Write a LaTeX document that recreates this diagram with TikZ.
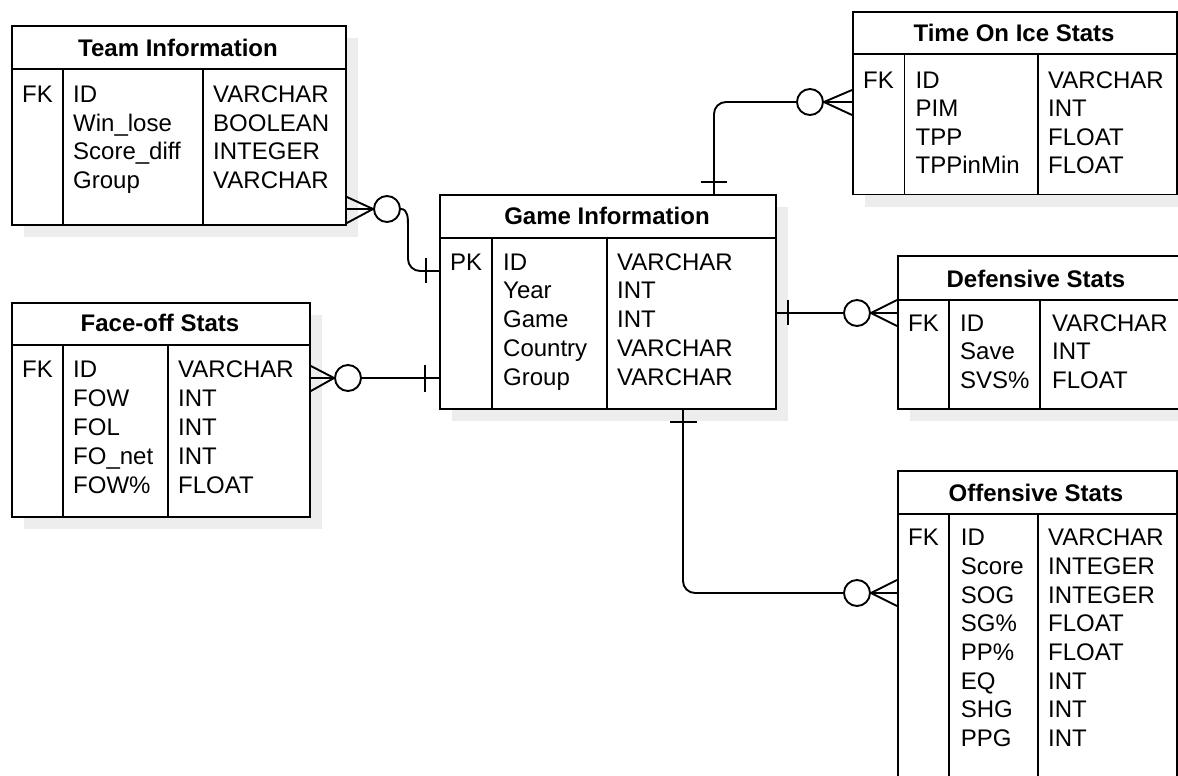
\documentclass[tikz,border=0pt]{standalone}
\usepackage{fontspec}
\setmainfont{Liberation Sans}
\tikzset{
  ln/.style={line width=1.9pt, draw=black},
  shade/.style={fill=black!7, draw=none},
  tbl/.style={draw, line width=1.9pt, fill=white, anchor=north west, inner sep=0pt},
  ttl/.style={font=\bfseries\fontsize{24}{28}\selectfont, anchor=base, inner sep=0pt},
  cell/.style={font=\fontsize{24}{28}\selectfont, anchor=base west, inner sep=0pt},
  circ/.style={circle, draw, line width=1.9pt, fill=white, minimum size=26pt, inner sep=0pt},
}
\newcommand\ercol[5]{\foreach \itm [count=\i from 0] in {#5} \node[cell] (#1\i) at (#2,{#3+\i*#4}) {\itm};}
\begin{document}
\begin{tikzpicture}[x=1pt,y=-1pt]
\useasboundingbox (0,0) rectangle (1178,776);
\clip (0,0) rectangle (1178,776);
\fill[white] (0,0) rectangle (1178,776);
% shadows
\fill[shade] (24,38) rectangle (358,237);
\fill[shade] (24,315) rectangle (322,529);
\fill[shade] (452,207) rectangle (788,421);
\fill[shade] (865,24) rectangle (1189,207);
\fill[shade] (910,268) rectangle (1195,421);
\fill[shade] (910,483) rectangle (1189,800);

% Team Information
\node[tbl, minimum width=334pt, minimum height=199pt] (team) at (11,25) {};
\draw[ln] (11,69) -- (345,69);
\draw[ln] (63,69) -- (63,224);
\draw[ln] (203,69) -- (203,224);
\node[ttl] (teamT) at (178,56.7) {Team Information};
\ercol{teamK}{22}{102.5}{28.5}{FK}
\ercol{teamN}{73}{102.5}{28.5}{ID,Win\_lose,Score\_diff,Group}
\ercol{teamY}{213}{102.5}{28.5}{VARCHAR,BOOLEAN,INTEGER,VARCHAR}

% Face-off Stats
\node[tbl, minimum width=298pt, minimum height=214pt] (face) at (11,302) {};
\draw[ln] (11,345) -- (309,345);
\draw[ln] (63,345) -- (63,516);
\draw[ln] (168,345) -- (168,516);
\node[ttl] (faceT) at (160,331.7) {Face-off Stats};
\ercol{faceK}{22}{377.4}{29}{FK}
\ercol{faceN}{73}{377.4}{29}{ID,FOW,FOL,FO\_net,FOW\%}
\ercol{faceY}{178}{377.4}{29}{VARCHAR,INT,INT,INT,FLOAT}

% Game Information
\node[tbl, minimum width=336pt, minimum height=214pt] (game) at (439,194) {};
\draw[ln] (439,238) -- (775,238);
\draw[ln] (492,238) -- (492,408);
\draw[ln] (607,238) -- (607,408);
\node[ttl] (gameT) at (607,224.4) {Game Information};
\ercol{gameK}{450}{270}{28.75}{PK}
\ercol{gameN}{503}{270}{28.75}{ID,Year,Game,Country,Group}
\ercol{gameY}{617}{270}{28.75}{VARCHAR,INT,INT,VARCHAR,VARCHAR}

% Time On Ice Stats
\node[tbl, minimum width=324pt, minimum height=182.5pt] (toi) at (852,11) {};
\draw[ln] (852,54) -- (1176,54);
\draw[ln] (904.5,54) -- (904.5,193.5);
\draw[ln] (1038,54) -- (1038,193.5);
\node[ttl] (toiT) at (1014,41.4) {Time On Ice Stats};
\ercol{toiK}{863}{88.4}{28.5}{FK}
\ercol{toiN}{915.5}{88.4}{28.5}{ID,PIM,TPP,TPPinMin}
\ercol{toiY}{1048}{88.4}{28.5}{VARCHAR,INT,FLOAT,FLOAT}

% Defensive Stats
\node[tbl, minimum width=285pt, minimum height=153pt] (def) at (897,255) {};
\draw[ln] (897,300) -- (1182,300);
\draw[ln] (949,300) -- (949,408);
\draw[ln] (1040,300) -- (1040,408);
\node[ttl] (defT) at (1036,287.7) {Defensive Stats};
\ercol{defK}{908}{331.4}{28.5}{FK}
\ercol{defN}{960}{331.4}{28.5}{ID,Save,SVS\%}
\ercol{defY}{1052}{331.4}{28.5}{VARCHAR,INT,FLOAT}

% Offensive Stats
\node[tbl, minimum width=279pt, minimum height=330pt] (off) at (897,470) {};
\draw[ln] (897,514) -- (1176,514);
\draw[ln] (949,514) -- (949,800);
\draw[ln] (1038,514) -- (1038,800);
\node[ttl] (offT) at (1036,501.1) {Offensive Stats};
\ercol{offK}{908}{545.7}{28.7}{FK}
\ercol{offN}{960.7}{545.7}{28.7}{ID,Score,SOG,SG\%,PP\%,EQ,SHG,PPG}
\ercol{offY}{1048}{545.7}{28.7}{VARCHAR,INTEGER,INTEGER,FLOAT,FLOAT,INT,INT,INT}

% Connector: Team -> Game
\node[circ] (cA) at (387,209) {};
\draw[ln] (team.east |- 0,197) -- (cA.west) -- (team.east |- 0,223);
\draw[ln] (team.east |- 0,209) -- (cA.west);
\draw[ln] (cA.east) to[out=0,in=90] (408,225) -- (408,259) to[out=-90,in=180] (420,271) -- (game.west |- 0,271);
\draw[ln] (426,258) -- (426,283);

% Connector: Face-off -> Game
\node[circ] (cB) at (348,378) {};
\draw[ln] (face.east |- 0,366) -- (cB.west) -- (face.east |- 0,391);
\draw[ln] (face.east |- 0,378) -- (cB.west);
\draw[ln] (cB.east) -- (game.west |- 0,378);
\draw[ln] (425,365) -- (425,392);

% Connector: Time On Ice -> Game
\node[circ] (cC) at (810,102) {};
\draw[ln] (toi.west |- 0,90) -- (cC.east) -- (toi.west |- 0,115);
\draw[ln] (toi.west |- 0,102) -- (cC.east);
\draw[ln, rounded corners=12pt] (cC.west) -- (714,102) -- (714,0 |- game.north);
\draw[ln] (701,182) -- (727,182);

% Connector: Game -> Defensive
\node[circ] (cD) at (857,313) {};
\draw[ln] (def.west |- 0,300) -- (cD.east) -- (def.west |- 0,326);
\draw[ln] (def.west |- 0,313) -- (cD.east);
\draw[ln] (game.east |- 0,313) -- (cD.west);
\draw[ln] (788,300) -- (788,325);

% Connector: Game -> Offensive
\node[circ] (cE) at (857,593) {};
\draw[ln] (off.west |- 0,580) -- (cE.east) -- (off.west |- 0,606);
\draw[ln] (off.west |- 0,593) -- (cE.east);
\draw[ln, rounded corners=12pt] (683,0 |- game.south) -- (683,593) -- (cE.west);
\draw[ln] (670,422) -- (697,422);
\end{tikzpicture}
\end{document}
